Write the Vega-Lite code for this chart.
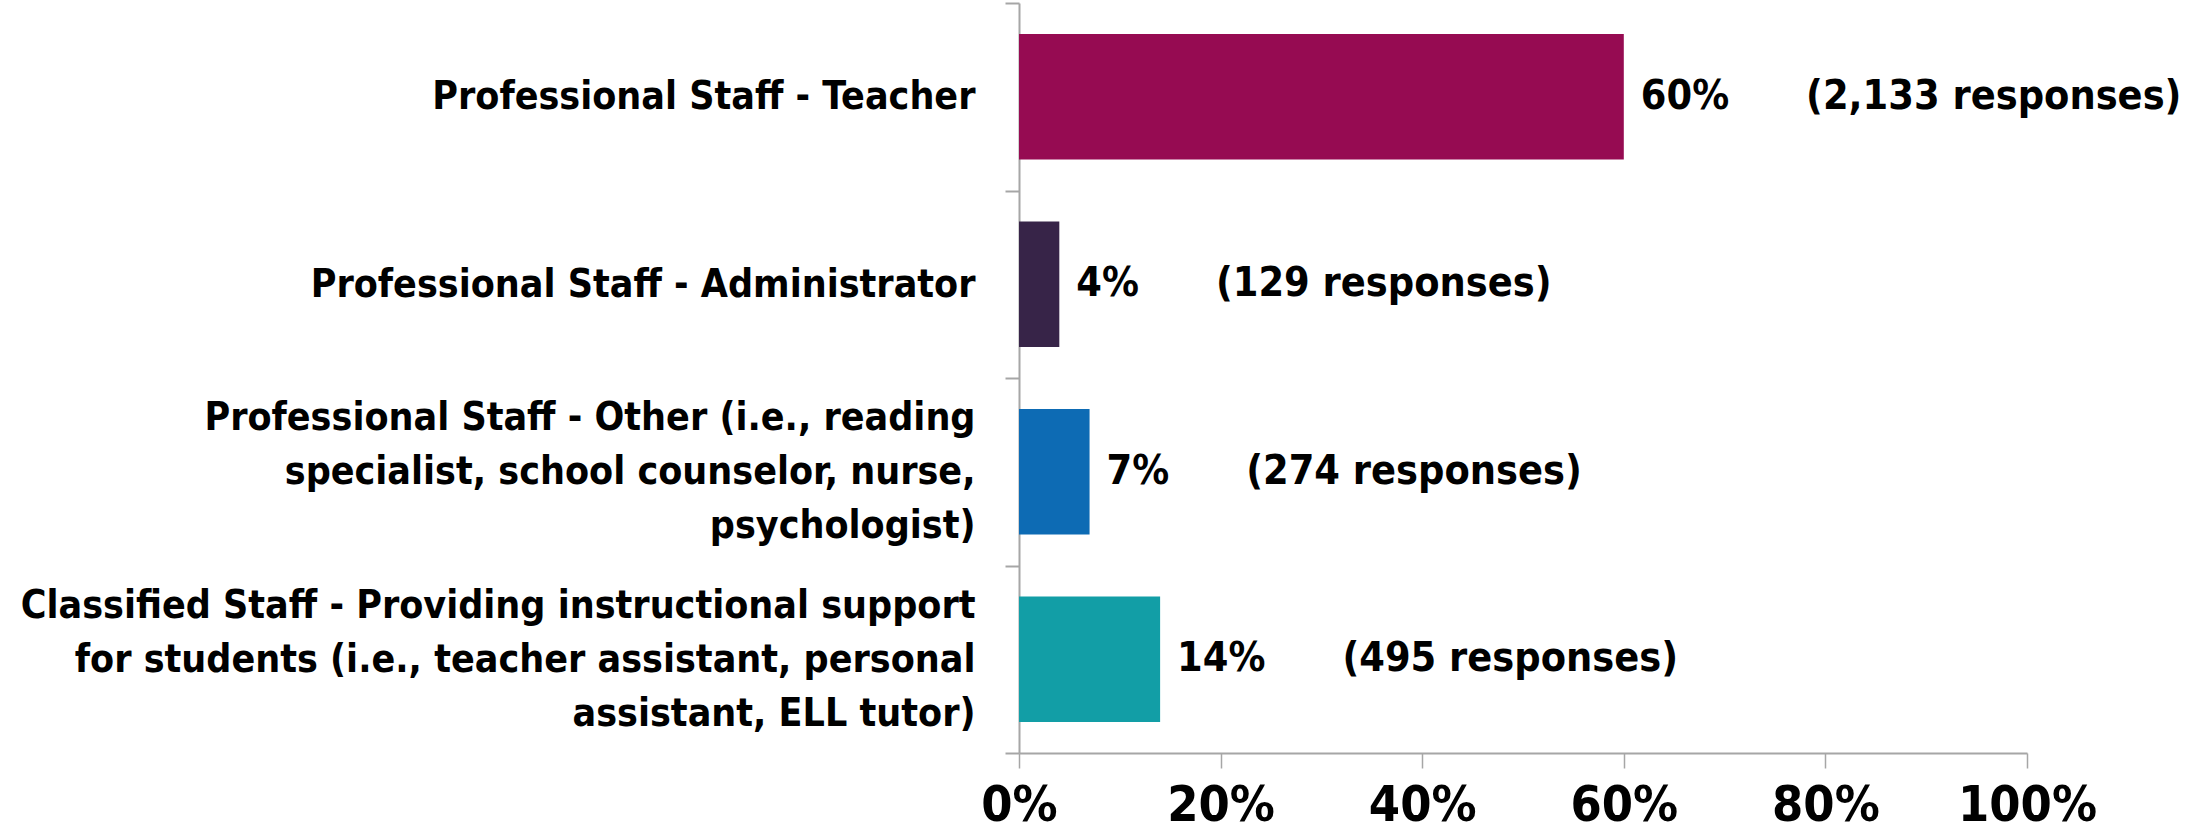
{
  "$schema": "https://vega.github.io/schema/vega-lite/v6.json",
  "width": 1008,
  "height": 750,
  "autosize": {"type": "none"},
  "padding": {"left": 1019, "top": 3, "right": 160, "bottom": 79},
  "background": "white",
  "config": {"view": {"stroke": null}, "font": "'DejaVu Sans Condensed', 'DejaVu Sans', sans-serif"},
  "data": {
    "values": [
      {"category": "Professional Staff - Teacher", "pct": 0.60, "responses": 2133},
      {"category": "Professional Staff - Administrator", "pct": 0.04, "responses": 129},
      {"category": "Professional Staff - Other (i.e., reading|specialist, school counselor, nurse,|psychologist)", "pct": 0.07, "responses": 274},
      {"category": "Classified Staff - Providing instructional support|for students (i.e., teacher assistant, personal|assistant, ELL tutor)", "pct": 0.14, "responses": 495}
    ]
  },
  "transform": [
    {"calculate": "format(datum.pct, '.0%') + '\u00a0\u00a0\u00a0\u00a0\u00a0\u00a0(' + format(datum.responses, ',') + ' responses)'", "as": "label"}
  ],
  "layer": [
    {
      "mark": {"type": "bar", "height": {"band": 0.67}},
      "encoding": {
        "y": {
          "field": "category",
          "type": "nominal",
          "sort": null,
          "scale": {"paddingInner": 0, "paddingOuter": 0},
          "axis": {
            "title": null,
            "domainColor": "#a6a6a6",
            "domainWidth": 2,
            "tickColor": "#a6a6a6",
            "tickWidth": 2,
            "tickSize": 14,
            "tickBand": "extent",
            "labelFontSize": 39,
            "labelFontWeight": "bold",
            "labelColor": "black",
            "labelLimit": 0,
            "labelExpr": "length(split(datum.label, '|')) > 1 ? [split(datum.label, '|')[0], pad(split(datum.label, '|')[1], floor((length(split(datum.label, '|')[0]) + length(split(datum.label, '|')[1])) / 2), '\u00a0'), pad(split(datum.label, '|')[2], floor((length(split(datum.label, '|')[0]) + length(split(datum.label, '|')[2])) / 2), '\u00a0')] : ['', datum.label]",
            "labelLineHeight": 54,
            "labelPadding": 30,
            "labelOffset": -54
          }
        },
        "x": {
          "field": "pct",
          "type": "quantitative",
          "scale": {"domain": [0, 1]},
          "axis": {
            "title": null,
            "format": ".0%",
            "values": [0, 0.2, 0.4, 0.6, 0.8, 1],
            "grid": false,
            "domainColor": "#a6a6a6",
            "domainWidth": 2,
            "tickColor": "#a6a6a6",
            "tickWidth": 1.5,
            "tickSize": 15,
            "labelFontSize": 50,
            "labelFontWeight": "bold",
            "labelColor": "black",
            "labelPadding": 12,
            "labelFlush": false
          }
        },
        "color": {
          "field": "category",
          "type": "nominal",
          "legend": null,
          "sort": null,
          "scale": {
            "range": ["#960B52", "#372448", "#0D6BB4", "#129EA6"]
          }
        }
      }
    },
    {
      "mark": {
        "type": "text",
        "align": "left",
        "baseline": "middle",
        "dx": 17,
        "fontSize": 41,
        "fontWeight": "bold",
        "color": "black"
      },
      "encoding": {
        "y": {"field": "category", "type": "nominal", "sort": null},
        "x": {"field": "pct", "type": "quantitative"},
        "text": {"field": "label", "type": "nominal"}
      }
    }
  ]
}
